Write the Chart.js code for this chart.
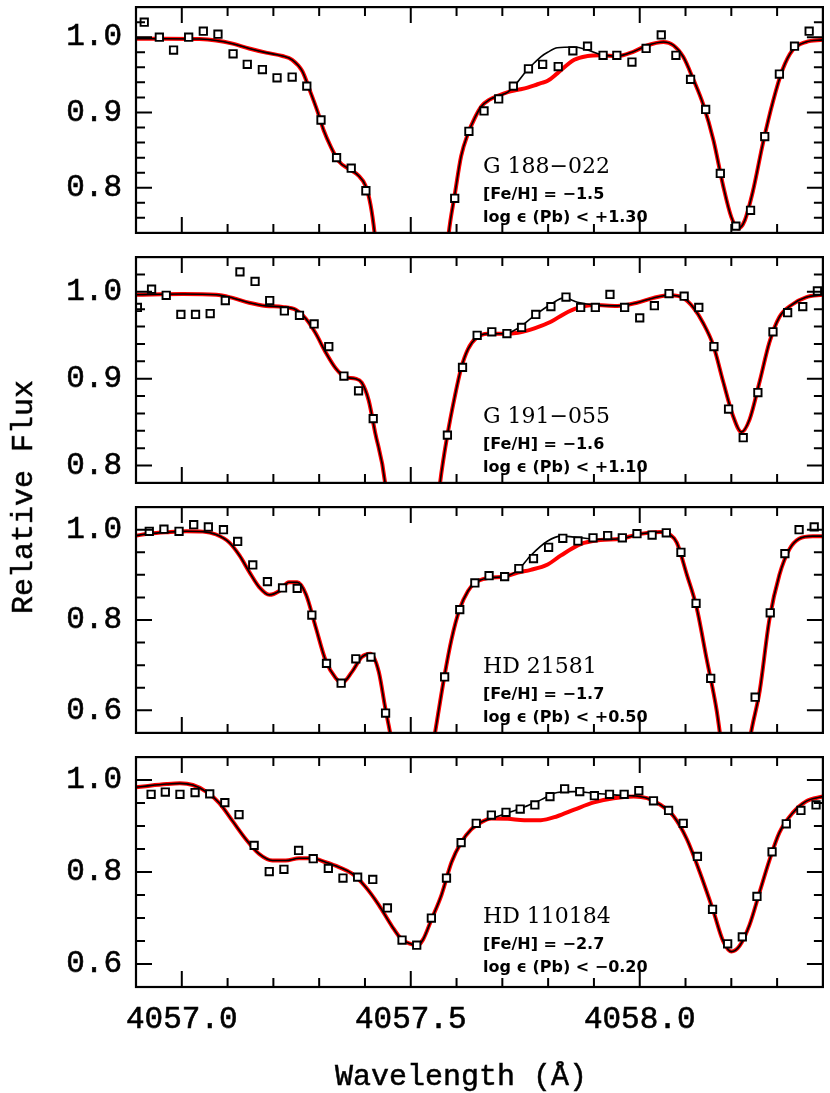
<!DOCTYPE html>
<html>
<head>
<meta charset="utf-8">
<script src="https://cdn.jsdelivr.net/npm/chart.js@4.4.0/dist/chart.umd.min.js"></script>
<style>
  body { margin: 0; background: #fff; width: 830px; height: 1093px; position: relative; overflow: hidden; }
  canvas { position: absolute; left: 0; }
  .axis-title { position: absolute; font-family: "Liberation Mono", monospace; font-size: 30px; color: #000; white-space: nowrap; line-height: 1; -webkit-text-stroke: 0.5px #000; }
  #ytitle { left: 24px; top: 497px; transform: translate(-50%, -50%) rotate(-90deg); }
  #xtitle { left: 461px; top: 1062px; transform: translateX(-50%); }
</style>
</head>
<body>
<canvas id="p1" width="830" height="240" style="top:0px"></canvas>
<canvas id="p2" width="830" height="240" style="top:250px"></canvas>
<canvas id="p3" width="830" height="240" style="top:500px"></canvas>
<canvas id="p4" width="830" height="343" style="top:750px"></canvas>
<div class="axis-title" id="ytitle">Relative Flux</div>
<div class="axis-title" id="xtitle">Wavelength (Å)</div>
<script>
// shared wavelength axis
var xMin = 4056.9, xMax = 4058.4;
var xLabelTicks = [4057.0, 4057.5, 4058.0];
var xMinorTicks = [4057.1, 4057.2, 4057.3, 4057.4, 4057.6, 4057.7, 4057.8, 4057.9, 4058.1, 4058.2, 4058.3];

// G 188-022
var g188Wave = [4056.918, 4056.951, 4056.982, 4057.015, 4057.047, 4057.079, 4057.112, 4057.143, 4057.176, 4057.208, 4057.241, 4057.273, 4057.304, 4057.338, 4057.370, 4057.402,
  4057.596, 4057.627, 4057.660, 4057.692, 4057.724, 4057.757, 4057.788, 4057.822, 4057.854, 4057.886, 4057.920, 4057.950, 4057.983, 4058.014, 4058.047, 4058.079, 4058.111, 4058.144, 4058.176, 4058.210, 4058.242, 4058.273, 4058.305, 4058.338, 4058.370];
var g188Flux = [1.020, 1.000, 0.983, 1.000, 1.008, 1.004, 0.978, 0.964, 0.957, 0.946, 0.947, 0.935, 0.890, 0.840, 0.826, 0.796,
  0.786, 0.875, 0.902, 0.918, 0.935, 0.958, 0.964, 0.961, 0.982, 0.988, 0.976, 0.976, 0.967, 0.985, 1.003, 0.976, 0.944, 0.904, 0.819, 0.749, 0.770, 0.868, 0.951, 0.988, 1.008];
var g188ModelWave = [4056.900, 4056.967, 4057.039, 4057.075, 4057.111, 4057.147, 4057.184, 4057.220, 4057.241, 4057.263, 4057.281, 4057.296, 4057.310, 4057.325, 4057.343, 4057.365, 4057.386, 4057.401, 4057.412, 4057.421,
  4057.440, 4057.460, 4057.500, 4057.540, 4057.565, 4057.583, 4057.596, 4057.610, 4057.625, 4057.640, 4057.654, 4057.672, 4057.690, 4057.712, 4057.734, 4057.755, 4057.770, 4057.784, 4057.799, 4057.820,
  4057.857, 4057.886, 4057.914, 4057.951, 4057.987, 4058.016, 4058.052, 4058.074, 4058.095, 4058.117, 4058.139, 4058.161, 4058.182, 4058.200, 4058.215, 4058.229, 4058.247, 4058.269, 4058.291, 4058.312, 4058.334, 4058.363, 4058.400];
var g188Black = [0.998, 0.998, 0.9976, 0.9957, 0.9914, 0.985, 0.9795, 0.975, 0.970, 0.955, 0.927, 0.902, 0.876, 0.855, 0.835, 0.825, 0.816, 0.803, 0.778, 0.740,
  0.62, 0.50, 0.40, 0.50, 0.62, 0.740, 0.7905, 0.842, 0.872, 0.893, 0.908, 0.917, 0.922, 0.927, 0.941, 0.957, 0.966, 0.974, 0.980, 0.986,
  0.987, 0.983, 0.977, 0.975, 0.981, 0.989, 0.9936, 0.989, 0.974, 0.944, 0.910, 0.863, 0.803, 0.761, 0.746, 0.756, 0.795, 0.859, 0.9145, 0.957, 0.983, 0.9936, 0.9965];
var g188Red = [0.998, 0.998, 0.9976, 0.9957, 0.9914, 0.985, 0.9795, 0.975, 0.970, 0.955, 0.927, 0.902, 0.876, 0.855, 0.835, 0.825, 0.816, 0.803, 0.778, 0.740,
  0.62, 0.50, 0.40, 0.50, 0.62, 0.740, 0.7905, 0.842, 0.872, 0.893, 0.908, 0.917, 0.922, 0.927, 0.930, 0.933, 0.936, 0.939, 0.942, 0.952,
  0.970, 0.975, 0.976, 0.975, 0.981, 0.989, 0.9936, 0.989, 0.974, 0.944, 0.910, 0.863, 0.803, 0.761, 0.746, 0.756, 0.795, 0.859, 0.9145, 0.957, 0.983, 0.9936, 0.9965];

// G 191-055
var g191Wave = [4056.903, 4056.934, 4056.966, 4056.998, 4057.030, 4057.062, 4057.095, 4057.127, 4057.160, 4057.192, 4057.224, 4057.257, 4057.289, 4057.321, 4057.354, 4057.386, 4057.418,
  4057.580, 4057.613, 4057.645, 4057.677, 4057.710, 4057.742, 4057.773, 4057.806, 4057.839, 4057.871, 4057.903, 4057.935, 4057.967, 4058.000, 4058.032, 4058.064, 4058.097, 4058.129, 4058.162, 4058.194, 4058.226, 4058.258, 4058.291, 4058.323, 4058.356, 4058.388];
var g191Flux = [0.982, 1.003, 0.996, 0.974, 0.974, 0.975, 0.990, 1.023, 1.012, 0.990, 0.978, 0.973, 0.963, 0.937, 0.903, 0.886, 0.854,
  0.835, 0.913, 0.950, 0.954, 0.952, 0.959, 0.974, 0.983, 0.994, 0.982, 0.982, 0.997, 0.982, 0.970, 0.984, 0.998, 0.995, 0.982, 0.937, 0.865, 0.832, 0.884, 0.954, 0.976, 0.983, 1.001];
var g191ModelWave = [4056.900, 4057.003, 4057.075, 4057.111, 4057.147, 4057.184, 4057.220, 4057.249, 4057.271, 4057.292, 4057.314, 4057.336, 4057.357, 4057.379, 4057.393, 4057.408, 4057.422, 4057.444,
  4057.460, 4057.500, 4057.540, 4057.564, 4057.580, 4057.596, 4057.610, 4057.625, 4057.643, 4057.668, 4057.705, 4057.734, 4057.770, 4057.806, 4057.835, 4057.864, 4057.900, 4057.951, 4057.994,
  4058.030, 4058.066, 4058.095, 4058.117, 4058.139, 4058.161, 4058.182, 4058.204, 4058.222, 4058.240, 4058.262, 4058.283, 4058.305, 4058.334, 4058.363, 4058.400];
var g191Black = [0.9967, 0.9975, 0.9967, 0.993, 0.9875, 0.9838, 0.9827, 0.9794, 0.969, 0.9525, 0.9305, 0.912, 0.9018, 0.900, 0.8955, 0.8753, 0.8385, 0.780,
  0.68, 0.48, 0.66, 0.78, 0.835, 0.879, 0.912, 0.934, 0.947, 0.9518, 0.9518, 0.958, 0.9727, 0.9857, 0.993, 0.988, 0.985, 0.9838, 0.9875,
  0.993, 0.996, 0.993, 0.982, 0.9636, 0.9379, 0.897, 0.8568, 0.8385, 0.8532, 0.897, 0.9415, 0.971, 0.9857, 0.9937, 0.9967];
var g191Red = [0.9967, 0.9975, 0.9967, 0.993, 0.9875, 0.9838, 0.9827, 0.9794, 0.969, 0.9525, 0.9305, 0.912, 0.9018, 0.900, 0.8955, 0.8753, 0.8385, 0.780,
  0.68, 0.48, 0.66, 0.78, 0.835, 0.879, 0.912, 0.934, 0.947, 0.9518, 0.9518, 0.953, 0.958, 0.9655, 0.9746, 0.9815, 0.9849, 0.9838, 0.9875,
  0.993, 0.996, 0.993, 0.982, 0.9636, 0.9379, 0.897, 0.8568, 0.8385, 0.8532, 0.897, 0.9415, 0.971, 0.9857, 0.9937, 0.9967];

// HD 21581
var hd21581Wave = [4056.929, 4056.961, 4056.994, 4057.026, 4057.058, 4057.091, 4057.122, 4057.155, 4057.187, 4057.220, 4057.252, 4057.284, 4057.316, 4057.348, 4057.380, 4057.413, 4057.445,
  4057.574, 4057.607, 4057.640, 4057.671, 4057.705, 4057.736, 4057.768, 4057.801, 4057.832, 4057.865, 4057.898, 4057.930, 4057.962, 4057.994, 4058.027, 4058.058, 4058.090, 4058.123, 4058.155, 4058.252, 4058.285, 4058.317, 4058.348, 4058.381];
var hd21581Flux = [0.9965, 1.001, 0.9965, 1.011, 1.006, 1.000, 0.974, 0.922, 0.885, 0.871, 0.870, 0.811, 0.704, 0.660, 0.714, 0.718, 0.594,
  0.674, 0.823, 0.882, 0.898, 0.896, 0.914, 0.936, 0.961, 0.981, 0.975, 0.982, 0.987, 0.982, 0.991, 0.988, 0.993, 0.950, 0.837, 0.671, 0.629, 0.816, 0.947, 1.000, 1.006];
var hd21581ModelWave = [4056.900, 4056.930, 4056.967, 4057.010, 4057.046, 4057.075, 4057.104, 4057.126, 4057.147, 4057.169, 4057.191, 4057.213, 4057.234, 4057.252, 4057.271, 4057.292, 4057.314, 4057.336, 4057.350, 4057.372,
  4057.393, 4057.412, 4057.430, 4057.444, 4057.455, 4057.480, 4057.510, 4057.540, 4057.553, 4057.574, 4057.589, 4057.607, 4057.625, 4057.640, 4057.668, 4057.705, 4057.734, 4057.762, 4057.799, 4057.828,
  4057.871, 4057.914, 4057.958, 4058.001, 4058.045, 4058.066, 4058.081, 4058.103, 4058.124, 4058.146, 4058.168, 4058.175, 4058.195, 4058.222, 4058.243, 4058.262, 4058.283, 4058.305, 4058.327, 4058.348, 4058.378, 4058.400];
var hd21581Black = [0.987, 0.9914, 0.9943, 0.9964, 0.9957, 0.9893, 0.9714, 0.9429, 0.9071, 0.8729, 0.8557, 0.8643, 0.8836, 0.8836, 0.8572, 0.7857, 0.7107, 0.6714, 0.6607, 0.6857,
  0.7179, 0.725, 0.6857, 0.6071, 0.55, 0.42, 0.32, 0.47, 0.55, 0.6786, 0.7571, 0.825, 0.8643, 0.882, 0.8929, 0.8964, 0.9107, 0.9429, 0.975, 0.9857,
  0.9821, 0.9785, 0.98, 0.9907, 0.995, 0.9893, 0.9714, 0.90, 0.8286, 0.7143, 0.60, 0.55, 0.40, 0.41, 0.55, 0.6429, 0.80, 0.90, 0.957, 0.98, 0.9857, 0.9857];
var hd21581Red = [0.987, 0.9914, 0.9943, 0.9964, 0.9957, 0.9893, 0.9714, 0.9429, 0.9071, 0.8729, 0.8557, 0.8643, 0.8836, 0.8836, 0.8572, 0.7857, 0.7107, 0.6714, 0.6607, 0.6857,
  0.7179, 0.725, 0.6857, 0.6071, 0.55, 0.42, 0.32, 0.47, 0.55, 0.6786, 0.7571, 0.825, 0.8643, 0.882, 0.8929, 0.8964, 0.905, 0.911, 0.923, 0.943,
  0.968, 0.977, 0.98, 0.9907, 0.995, 0.9893, 0.9714, 0.90, 0.8286, 0.7143, 0.60, 0.55, 0.40, 0.41, 0.55, 0.6429, 0.80, 0.90, 0.957, 0.98, 0.9857, 0.9857];

// HD 110184
var hd110184Wave = [4056.933, 4056.964, 4056.996, 4057.029, 4057.061, 4057.094, 4057.125, 4057.158, 4057.191, 4057.223, 4057.255, 4057.287, 4057.320, 4057.352, 4057.384, 4057.417, 4057.449, 4057.481, 4057.513,
  4057.545, 4057.578, 4057.610, 4057.643, 4057.676, 4057.708, 4057.739, 4057.771, 4057.804, 4057.836, 4057.869, 4057.901, 4057.934, 4057.966, 4057.998, 4058.030, 4058.063, 4058.095, 4058.126, 4058.159, 4058.192, 4058.224, 4058.256, 4058.289, 4058.320, 4058.352, 4058.385];
var hd110184Flux = [0.969, 0.974, 0.969, 0.973, 0.970, 0.951, 0.925, 0.858, 0.801, 0.806, 0.847, 0.829, 0.808, 0.787, 0.789, 0.784, 0.722, 0.652, 0.641,
  0.700, 0.787, 0.864, 0.906, 0.924, 0.930, 0.937, 0.946, 0.964, 0.981, 0.975, 0.966, 0.969, 0.969, 0.977, 0.955, 0.934, 0.906, 0.834, 0.719, 0.644, 0.659, 0.747, 0.844, 0.905, 0.934, 0.946];
var hd110184ModelWave = [4056.900, 4056.930, 4056.967, 4056.996, 4057.024, 4057.053, 4057.082, 4057.111, 4057.140, 4057.169, 4057.198, 4057.227, 4057.256, 4057.285, 4057.314, 4057.343, 4057.372, 4057.401, 4057.430, 4057.459,
  4057.480, 4057.502, 4057.513, 4057.527, 4057.545, 4057.567, 4057.589, 4057.610, 4057.632, 4057.654, 4057.676, 4057.712, 4057.748, 4057.784, 4057.820, 4057.857, 4057.900, 4057.943, 4057.987, 4058.016,
  4058.045, 4058.074, 4058.103, 4058.131, 4058.161, 4058.182, 4058.200, 4058.218, 4058.240, 4058.262, 4058.283, 4058.305, 4058.334, 4058.363, 4058.400];
var hd110184Black = [0.9843, 0.9879, 0.9914, 0.9929, 0.9893, 0.975, 0.95, 0.9107, 0.8714, 0.8393, 0.825, 0.825, 0.830, 0.830, 0.8214, 0.8107, 0.7964, 0.7679, 0.7286, 0.6821,
  0.6536, 0.643, 0.6393, 0.6536, 0.6964, 0.75, 0.8214, 0.8643, 0.8929, 0.9086, 0.9164, 0.9286, 0.9414, 0.957, 0.9729, 0.975, 0.9714, 0.9679, 0.9657, 0.9607,
  0.9464, 0.9214, 0.8714, 0.80, 0.7143, 0.65, 0.627, 0.6393, 0.6857, 0.7571, 0.825, 0.8857, 0.9286, 0.9536, 0.9643];
var hd110184Red = [0.9843, 0.9879, 0.9914, 0.9929, 0.9893, 0.975, 0.95, 0.9107, 0.8714, 0.8393, 0.825, 0.825, 0.830, 0.830, 0.8214, 0.8107, 0.7964, 0.7679, 0.7286, 0.6821,
  0.6536, 0.643, 0.6393, 0.6536, 0.6964, 0.75, 0.8214, 0.8643, 0.8929, 0.9086, 0.9164, 0.9157, 0.9129, 0.9129, 0.9214, 0.9357, 0.9514, 0.9607, 0.9643, 0.9607,
  0.9464, 0.9214, 0.8714, 0.80, 0.7143, 0.65, 0.627, 0.6393, 0.6857, 0.7571, 0.825, 0.8857, 0.9286, 0.9536, 0.9643];

// y tick marks per panel
var yLabelsTop = [0.8, 0.9, 1.0];
var yMinorTop = [0.76, 0.78, 0.82, 0.84, 0.86, 0.88, 0.92, 0.94, 0.96, 0.98, 1.02];
var yLabelsLow = [0.6, 0.8, 1.0];
var yMinorLow = [0.65, 0.7, 0.75, 0.85, 0.9, 0.95];

var tickFont = { family: 'Liberation Mono', size: 31 };

function pairs(xs, ys) {
  return xs.map(function(x, i) { return { x: x, y: ys[i] }; });
}

// box around the plot with inward ticks on all four sides
var framePlugin = {
  id: 'frame',
  afterDatasetsDraw: function(chart, args, opts) {
    var ctx = chart.ctx, a = chart.chartArea;
    var xs = chart.scales.x, ys = chart.scales.y;
    ctx.save();
    ctx.strokeStyle = '#000';
    ctx.lineWidth = 2;
    function tickX(v, len) {
      var px = xs.getPixelForValue(v);
      ctx.beginPath();
      ctx.moveTo(px, a.top); ctx.lineTo(px, a.top + len);
      ctx.moveTo(px, a.bottom); ctx.lineTo(px, a.bottom - len);
      ctx.stroke();
    }
    function tickY(v, len) {
      var py = ys.getPixelForValue(v);
      ctx.beginPath();
      ctx.moveTo(a.left, py); ctx.lineTo(a.left + len, py);
      ctx.moveTo(a.right, py); ctx.lineTo(a.right - len, py);
      ctx.stroke();
    }
    xLabelTicks.forEach(function(v) { tickX(v, 16); });
    xMinorTicks.forEach(function(v) { tickX(v, 9); });
    opts.yMajor.forEach(function(v) { tickY(v, 16); });
    opts.yMinor.forEach(function(v) { tickY(v, 9); });
    ctx.lineWidth = 2.2;
    ctx.strokeRect(a.left, a.top, a.right - a.left, a.bottom - a.top);
    ctx.restore();
  }
};

// star name and abundances inside each panel
var labelPlugin = {
  id: 'starLabel',
  afterDraw: function(chart, args, opts) {
    var ctx = chart.ctx, top = chart.chartArea.top;
    ctx.save();
    ctx.fillStyle = '#000';
    ctx.textBaseline = 'alphabetic';
    ctx.font = '22px "DejaVu Serif"';
    ctx.fillText(opts.lines[0], 483, top + 166);
    ctx.font = 'bold 16px "DejaVu Sans"';
    ctx.fillText(opts.lines[1], 483, top + 192);
    ctx.fillText(opts.lines[2], 483, top + 215);
    ctx.restore();
  }
};

function noPad(s) {
  s.paddingTop = 0; s.paddingBottom = 0; s.paddingLeft = 0; s.paddingRight = 0;
}

function makePanel(id, obsWave, obsFlux, modelWave, black, red, yMin, yMax, yMajor, yMinor, lines, bottom) {
  new Chart(document.getElementById(id), {
    type: 'scatter',
    data: {
      datasets: [
        {
          data: pairs(obsWave, obsFlux),
          pointStyle: 'rect',
          pointRadius: 5.2,
          pointBorderWidth: 1.9,
          pointBorderColor: '#000',
          pointBackgroundColor: '#fff',
          showLine: false
        },
        {
          data: pairs(modelWave, black),
          showLine: true,
          borderColor: '#000',
          borderWidth: 1.6,
          pointRadius: 0,
          cubicInterpolationMode: 'monotone'
        },
        {
          data: pairs(modelWave, red),
          showLine: true,
          borderColor: '#ff0000',
          borderWidth: 4,
          pointRadius: 0,
          cubicInterpolationMode: 'monotone'
        }
      ]
    },
    options: {
      responsive: false,
      animation: false,
      events: [],
      layout: { padding: { left: 0, right: 3, top: 3, bottom: bottom ? 0 : 3 } },
      plugins: {
        legend: { display: false },
        tooltip: { enabled: false },
        frame: { yMajor: yMajor, yMinor: yMinor },
        starLabel: { lines: lines }
      },
      scales: {
        x: {
          type: 'linear',
          min: xMin,
          max: xMax,
          grid: { display: false, drawTicks: false },
          border: { display: false },
          ticks: {
            display: bottom,
            font: tickFont,
            color: '#000',
            textStrokeColor: '#000',
            textStrokeWidth: 0.6,
            padding: 14,
            maxRotation: 0,
            autoSkip: false,
            callback: function(v) { return v.toFixed(1); }
          },
          afterBuildTicks: function(s) { s.ticks = xLabelTicks.map(function(v) { return { value: v }; }); },
          afterFit: function(s) { s.height = bottom ? 106 : 0; noPad(s); }
        },
        y: {
          type: 'linear',
          min: yMin,
          max: yMax,
          grid: { display: false, drawTicks: false },
          border: { display: false },
          ticks: {
            font: tickFont,
            color: '#000',
            textStrokeColor: '#000',
            textStrokeWidth: 0.6,
            padding: 14,
            callback: function(v) { return v.toFixed(1); }
          },
          afterBuildTicks: function(s) { s.ticks = yMajor.map(function(v) { return { value: v }; }); },
          afterFit: function(s) { s.width = 136; noPad(s); }
        }
      }
    },
    plugins: [framePlugin, labelPlugin]
  });
}

makePanel('p1', g188Wave, g188Flux, g188ModelWave, g188Black, g188Red, 0.74, 1.04, yLabelsTop, yMinorTop,
  ['G 188\u2212022', '[Fe/H] = \u22121.5', 'log \u03f5 (Pb) < +1.30'], false);
makePanel('p2', g191Wave, g191Flux, g191ModelWave, g191Black, g191Red, 0.78, 1.04, yLabelsTop, yMinorTop.slice(2),
  ['G 191\u2212055', '[Fe/H] = \u22121.6', 'log \u03f5 (Pb) < +1.10'], false);
makePanel('p3', hd21581Wave, hd21581Flux, hd21581ModelWave, hd21581Black, hd21581Red, 0.55, 1.05, yLabelsLow, yMinorLow,
  ['HD 21581', '[Fe/H] = \u22121.7', 'log \u03f5 (Pb) < +0.50'], false);
makePanel('p4', hd110184Wave, hd110184Flux, hd110184ModelWave, hd110184Black, hd110184Red, 0.55, 1.05, yLabelsLow, yMinorLow,
  ['HD 110184', '[Fe/H] = \u22122.7', 'log \u03f5 (Pb) < \u22120.20'], true);
</script>
</body>
</html>
